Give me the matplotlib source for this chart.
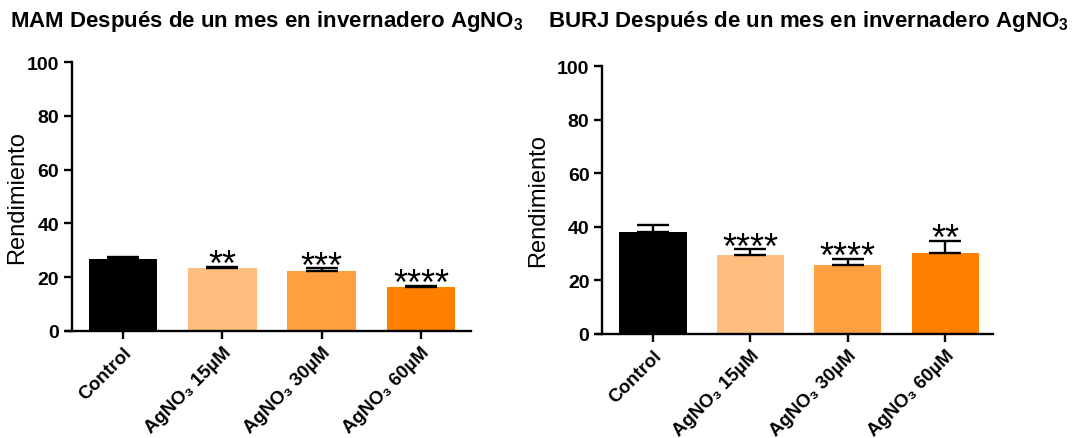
import matplotlib
matplotlib.use("Agg")
import matplotlib.pyplot as plt

plt.rcParams['font.family'] = ['Liberation Sans', 'DejaVu Sans']
plt.rcParams['mathtext.fontset'] = 'custom'
plt.rcParams['mathtext.rm'] = 'Liberation Sans'
plt.rcParams['mathtext.bf'] = 'Liberation Sans:bold'

categories = ["Control", "AgNO₃ 15µM", "AgNO₃ 30µM", "AgNO₃ 60µM"]
colors = ["#000000", "#FEBE7E", "#FFA040", "#FF7F00"]
yticks = [0, 20, 40, 60, 80, 100]

mam_mean = [26.7, 23.5, 22.2, 16.5]
mam_err = [0.9, 0.3, 1.1, 0.3]
mam_sig = ["", "**", "***", "****"]

burj_mean = [37.9, 29.4, 25.7, 30.3]
burj_err = [2.8, 2.2, 2.3, 4.5]
burj_sig = ["", "****", "****", "**"]

titles = ["MAM Después de un mes en invernadero AgNO$_{\\mathregular{3}}$",
          "BURJ Después de un mes en invernadero AgNO$_{\\mathregular{3}}$"]

fig = plt.figure(figsize=(10.75, 4.39), dpi=100)
W, H = 1075, 439

def px_axes(x0, x1, ytop, ybot):
    return fig.add_axes([x0 / W, (H - ybot) / H, (x1 - x0) / W, (ybot - ytop) / H])

panels = [
    (px_axes(66, 471, 63, 332), mam_mean, mam_err, mam_sig, (-0.574, 3.504), 0.0136,
     -0.094, titles[0], 10),
    (px_axes(597, 993, 67, 335), burj_mean, burj_err, burj_sig, (-0.575, 3.49), 0.0126,
     -0.121, titles[1], 548),
]

for ax, mean, err, sig, xl, spine_off, ylab_x, title, tx in panels:
    # spine placement first: moving a spine resets its axis ticks
    ax.spines['top'].set_visible(False)
    ax.spines['right'].set_visible(False)
    ax.spines['left'].set_position(('axes', spine_off))
    ax.spines['left'].set_linewidth(1.7)
    ax.spines['bottom'].set_linewidth(1.7)

    x = list(range(len(mean)))
    ax.bar(x, mean, width=0.69, color=colors, edgecolor='none', zorder=2)
    ax.errorbar(x, mean, yerr=[[0] * len(err), err], fmt='none', ecolor='black',
                elinewidth=1.7, capsize=11.5, capthick=1.7, zorder=3)
    for i, (m, e, s) in enumerate(zip(mean, err, sig)):
        if s:
            ax.annotate(s, xy=(i, m + e), xytext=(0, -6), textcoords='offset points',
                        ha='center', va='baseline', fontsize=26)
    ax.set_xlim(*xl)
    ax.set_ylim(0, 100)
    ax.set_yticks(yticks, labels=[str(v) for v in yticks], fontsize=14, fontweight='bold')
    ax.set_xticks(x, labels=categories, rotation=45, ha='right', rotation_mode='anchor',
                  fontsize=13.5, fontweight='bold')
    ax.tick_params(axis='both', direction='out', length=6, width=1.7, pad=3)
    ax.set_ylabel("Rendimiento", fontsize=17)
    ax.yaxis.set_label_coords(ylab_x, 0.5)
    fig.text(tx / W, 1 - 22 / H, title, fontsize=16, fontweight='bold', va='center', ha='left')

fig.savefig("out.png", dpi=100)
